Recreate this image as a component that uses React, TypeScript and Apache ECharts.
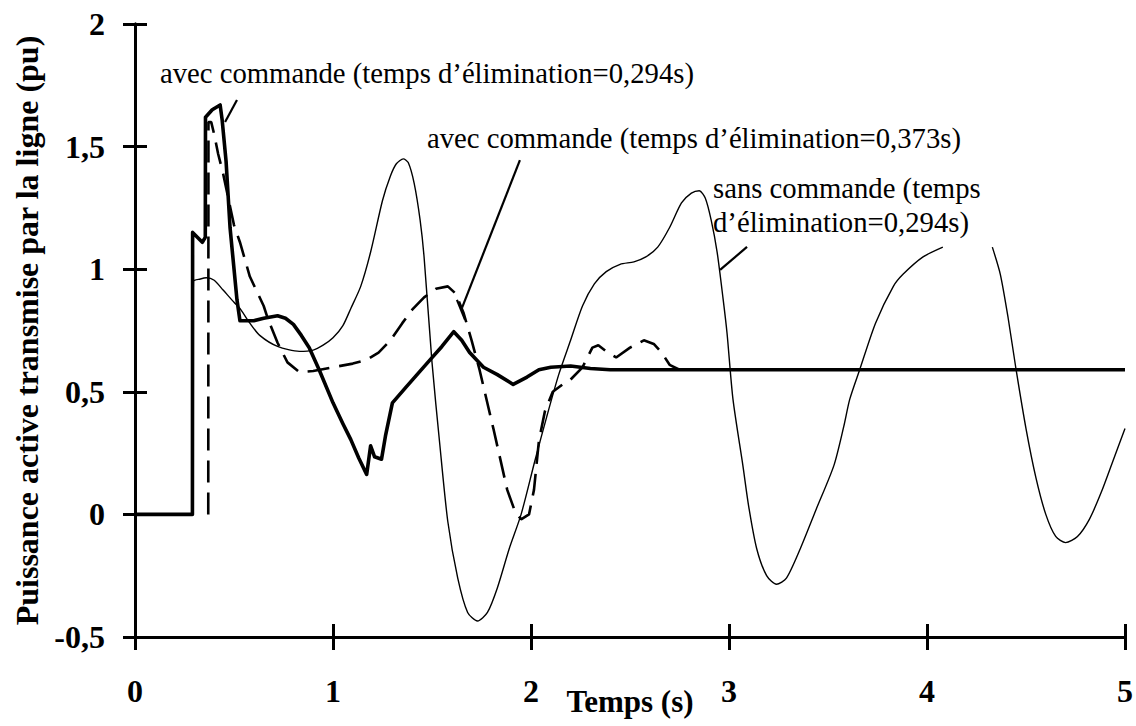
import React, { useEffect, useRef } from "react";
import * as echarts from "echarts";

// ---- tick values / labels ----
const xTickValues = [0, 1, 2, 3, 4, 5];
const xTickLabels = ["0", "1", "2", "3", "4", "5"];
const yTickValues = [-0.5, 0, 0.5, 1, 1.5, 2];
const yTickLabels = ["-0,5", "0", "0,5", "1", "1,5", "2"];

const xTitle = "Temps (s)";
const yTitle = "Puissance active transmise par la ligne (pu)";

// ---- series: [time (s), power (pu)] ----
// sans commande (temps d'élimination = 0,294 s) : thin line
const sansCommande294: (number | null)[][] = [
  [0, 0], [0.29, 0], [0.295, 0.95], [0.33, 0.96], [0.36, 0.965], [0.4, 0.955],
  [0.445, 0.915], [0.5, 0.865], [0.53, 0.84], [0.58, 0.78], [0.63, 0.73],
  [0.72, 0.685], [0.83, 0.665], [0.9, 0.67], [0.95, 0.69], [1.0, 0.72],
  [1.05, 0.77], [1.09, 0.84], [1.14, 0.93], [1.19, 1.07], [1.25, 1.28],
  [1.29, 1.38], [1.32, 1.43], [1.355, 1.45], [1.38, 1.435], [1.41, 1.35],
  [1.44, 1.2], [1.46, 1.05], [1.5, 0.62], [1.54, 0.28], [1.58, -0.03],
  [1.63, -0.26], [1.68, -0.4], [1.73, -0.435], [1.78, -0.4], [1.83, -0.3],
  [1.89, -0.14], [1.95, 0.0], [2.02, 0.22], [2.08, 0.4], [2.14, 0.57],
  [2.2, 0.71], [2.26, 0.85], [2.32, 0.94], [2.38, 0.99], [2.45, 1.02],
  [2.52, 1.03], [2.58, 1.05], [2.64, 1.09], [2.7, 1.17], [2.76, 1.27],
  [2.81, 1.31], [2.85, 1.32], [2.88, 1.29], [2.91, 1.2], [2.94, 1.07],
  [2.97, 0.88], [2.99, 0.74], [3.02, 0.47], [3.07, 0.2], [3.1, 0.03],
  [3.14, -0.14], [3.19, -0.25], [3.24, -0.285], [3.29, -0.26], [3.36, -0.14],
  [3.44, 0.02], [3.53, 0.2], [3.58, 0.36], [3.61, 0.47], [3.66, 0.59],
  [3.74, 0.78], [3.83, 0.93], [3.88, 0.98], [3.98, 1.05], [4.08, 1.09],
  [4.2, null],
  [4.33, 1.09], [4.37, 0.98], [4.41, 0.8], [4.45, 0.59], [4.5, 0.35],
  [4.55, 0.15], [4.6, 0.0], [4.65, -0.09], [4.7, -0.115], [4.76, -0.09],
  [4.82, -0.02], [4.88, 0.09], [4.94, 0.22], [5.0, 0.35],
];

// avec commande (temps d'élimination = 0,294 s) : thick line
const avecCommande294: number[][] = [
  [0, 0], [0.29, 0], [0.291, 1.15], [0.34, 1.11], [0.355, 1.13], [0.356, 1.62],
  [0.39, 1.65], [0.43, 1.67], [0.44, 1.61], [0.46, 1.44], [0.48, 1.17],
  [0.515, 0.875], [0.53, 0.79], [0.6, 0.79], [0.65, 0.8], [0.72, 0.81],
  [0.76, 0.8], [0.8, 0.775], [0.84, 0.73], [0.88, 0.68], [0.93, 0.59],
  [1.0, 0.455], [1.05, 0.37], [1.09, 0.305], [1.13, 0.23], [1.17, 0.163],
  [1.19, 0.28], [1.21, 0.235], [1.245, 0.225], [1.265, 0.32], [1.3, 0.455],
  [1.37, 0.52], [1.43, 0.575], [1.49, 0.63], [1.55, 0.685], [1.61, 0.745],
  [1.65, 0.71], [1.69, 0.66], [1.76, 0.6], [1.83, 0.57], [1.91, 0.53],
  [1.98, 0.56], [2.04, 0.59], [2.1, 0.6], [2.2, 0.605], [2.3, 0.595],
  [2.4, 0.59], [5.0, 0.59],
];

// avec commande (temps d'élimination = 0,373 s) : dashed line
const avecCommande373: number[][] = [
  [0.37, 0], [0.371, 1.6], [0.385, 1.6], [0.4, 1.55], [0.42, 1.47],
  [0.445, 1.39], [0.5, 1.18], [0.53, 1.11], [0.58, 0.97], [0.65, 0.85],
  [0.67, 0.8], [0.72, 0.7], [0.77, 0.62], [0.83, 0.58], [0.9, 0.585],
  [1.0, 0.6], [1.1, 0.615], [1.17, 0.63], [1.23, 0.66], [1.29, 0.71],
  [1.35, 0.78], [1.4, 0.835], [1.46, 0.885], [1.52, 0.92], [1.58, 0.93],
  [1.62, 0.9], [1.66, 0.82], [1.7, 0.71], [1.74, 0.59], [1.81, 0.35],
  [1.88, 0.1], [1.92, 0.01], [1.95, -0.02], [1.99, 0.0], [2.015, 0.1],
  [2.04, 0.3], [2.07, 0.42], [2.11, 0.5], [2.16, 0.53], [2.2, 0.55],
  [2.26, 0.6], [2.31, 0.68], [2.34, 0.69], [2.38, 0.665], [2.43, 0.64],
  [2.5, 0.68], [2.57, 0.71], [2.62, 0.695], [2.66, 0.66], [2.7, 0.61],
  [2.75, 0.59], [5.0, 0.59],
];

// leader lines (data coordinates): [[x1, y1], [x2, y2]]
const leaderLines: number[][][] = [
  [[0.515, 1.69], [0.455, 1.6]],
  [[1.944, 1.445], [1.652, 0.843]],
  [[1.626, 0.875], [1.667, 0.794]],
  [[3.091, 1.091], [2.955, 0.997]],
];

// annotation texts
const annotationTexts = [
  "avec commande (temps d\u2019\u00e9limination=0,294s)",
  "avec commande (temps d\u2019\u00e9limination=0,373s)",
  "sans commande (temps",
  "d\u2019\u00e9limination=0,294s)",
];

const SERIF = '"Liberation Serif", "Times New Roman", Times, serif';

export default function App() {
  const ref = useRef<HTMLDivElement>(null);

  useEffect(() => {
    if (!ref.current) return;
    const chart = echarts.init(ref.current, undefined, { renderer: "svg" });

    const xLabel = (v: number) => {
      const i = xTickValues.indexOf(v);
      return i >= 0 ? xTickLabels[i] : "";
    };
    const yLabel = (v: number) => {
      const i = yTickValues.findIndex((t) => Math.abs(t - v) < 1e-9);
      return i >= 0 ? yTickLabels[i] : "";
    };

    const axisLineStyle = { color: "#000", width: 3 };
    const tickStyle = { color: "#000", width: 3 };
    const labelFont = {
      fontFamily: SERIF,
      fontWeight: "bold" as const,
      fontSize: 32,
      color: "#000",
    };

    const baseX = {
      type: "value" as const,
      min: 0,
      max: 5,
      interval: 1,
      position: "bottom" as const,
      splitLine: { show: false },
      axisLine: { show: true, onZero: false, lineStyle: axisLineStyle },
    };
    const baseY = {
      type: "value" as const,
      min: -0.5,
      max: 2,
      interval: 0.5,
      position: "left" as const,
      splitLine: { show: false },
      axisLine: { show: true, onZero: false, lineStyle: axisLineStyle },
    };

    const annoFont = `28.7px ${SERIF}`;
    const anno = (text: string, x: number, y: number) => ({
      type: "text",
      x,
      y,
      style: {
        text,
        font: annoFont,
        fill: "#000",
        align: "left",
        verticalAlign: "middle",
      },
    });

    const option: any = {
      animation: false,
      backgroundColor: "#fff",
      grid: {
        left: 135,
        right: 11,
        top: 24,
        bottom: 89,
        containLabel: false,
        outerBoundsMode: "none",
      },
      xAxis: [
        {
          ...baseX,
          axisTick: { show: true, inside: false, length: 13, lineStyle: tickStyle },
          axisLabel: { ...labelFont, margin: 38, formatter: xLabel },
          name: xTitle,
          nameLocation: "middle",
          nameGap: 49,
          nameMoveOverlap: false,
          nameTextStyle: {
            fontFamily: SERIF,
            fontWeight: "bold",
            fontSize: 31,
            color: "#000",
          },
        },
        {
          ...baseX,
          axisTick: { show: true, inside: true, length: 13, lineStyle: tickStyle },
          axisLabel: { show: false },
        },
      ],
      yAxis: [
        {
          ...baseY,
          axisTick: { show: true, inside: false, length: 12, lineStyle: tickStyle },
          axisLabel: { ...labelFont, margin: 30, formatter: yLabel },
          name: yTitle,
          nameLocation: "middle",
          nameGap: 92,
          nameRotate: 90,
          nameMoveOverlap: false,
          nameTextStyle: {
            fontFamily: SERIF,
            fontWeight: "bold",
            fontSize: 32,
            color: "#000",
          },
        },
        {
          ...baseY,
          axisTick: { show: true, inside: true, length: 12, lineStyle: tickStyle },
          axisLabel: { show: false },
        },
      ],
      series: [
        {
          name: "sans commande (0,294s)",
          type: "line",
          xAxisIndex: 0,
          yAxisIndex: 0,
          data: sansCommande294,
          showSymbol: false,
          symbol: "none",
          smooth: 0.25,
          connectNulls: false,
          lineStyle: { color: "#000", width: 1.4 },
          z: 2,
        },
        {
          name: "avec commande (0,373s)",
          type: "line",
          xAxisIndex: 0,
          yAxisIndex: 0,
          data: avecCommande373,
          showSymbol: false,
          symbol: "none",
          lineStyle: { color: "#000", width: 2.6, type: [22, 10] },
          z: 3,
        },
        {
          name: "avec commande (0,294s)",
          type: "line",
          xAxisIndex: 0,
          yAxisIndex: 0,
          data: avecCommande294,
          showSymbol: false,
          symbol: "none",
          lineStyle: { color: "#000", width: 3.6, join: "round" },
          z: 4,
          markLine: {
            silent: true,
            symbol: ["none", "none"],
            label: { show: false },
            lineStyle: { color: "#000", width: 2.2, type: "solid" },
            data: leaderLines.map(([a, b]) => [{ coord: a }, { coord: b }]),
          },
        },
      ],
      graphic: [
        anno(annotationTexts[0], 160, 73),
        anno(annotationTexts[1], 427, 138),
        anno(annotationTexts[2], 713, 188),
        anno(annotationTexts[3], 713, 222),
      ],
    };

    chart.setOption(option);
    return () => chart.dispose();
  }, []);

  return (
    <div
      ref={ref}
      style={{ position: "absolute", left: 0, top: 0, width: 1136, height: 726, background: "#fff" }}
    />
  );
}
